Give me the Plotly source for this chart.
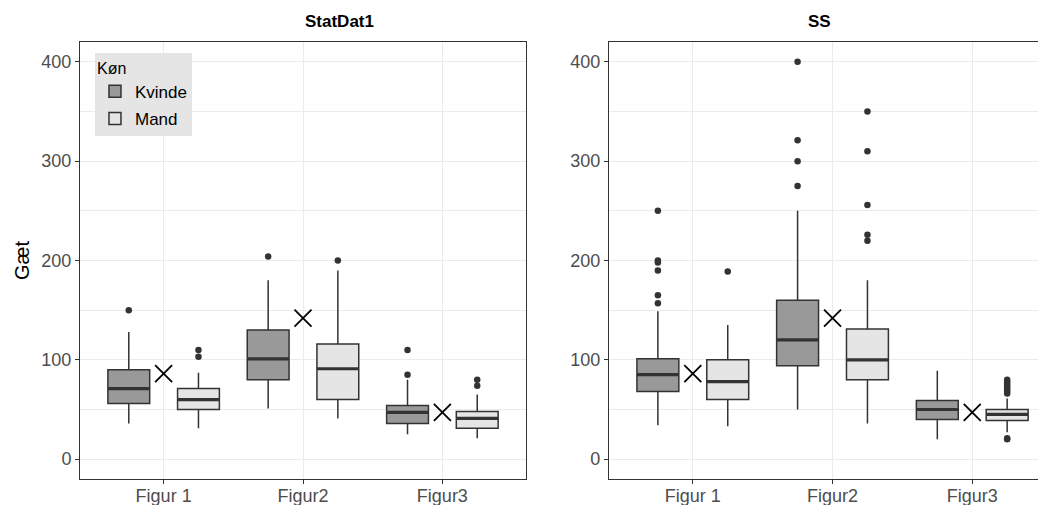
import plotly.graph_objects as go

categories = ["Figur 1", "Figur2", "Figur3"]
groups = ["Kvinde", "Mand"]

# ---- StatDat1 ----
sd_kvinde_q1 = [56, 80, 36]
sd_kvinde_med = [71, 101, 47]
sd_kvinde_q3 = [90, 130, 54]
sd_kvinde_lo = [36, 51, 25]
sd_kvinde_hi = [128, 180, 80]
sd_kvinde_out = [[150], [204], [110, 85]]

sd_mand_q1 = [50, 60, 31]
sd_mand_med = [60, 91, 41]
sd_mand_q3 = [71, 116, 48]
sd_mand_lo = [31, 41, 21]
sd_mand_hi = [87, 190, 65]
sd_mand_out = [[110, 103], [200], [80, 74]]

sd_mean = [86, 142, 47]

# ---- SS ----
ss_kvinde_q1 = [68, 94, 40]
ss_kvinde_med = [85, 120, 50]
ss_kvinde_q3 = [101, 160, 59]
ss_kvinde_lo = [34, 50, 20]
ss_kvinde_hi = [149, 250, 89]
ss_kvinde_out = [[250, 200, 198, 190, 165, 157], [400, 321, 300, 275], []]

ss_mand_q1 = [60, 80, 39]
ss_mand_med = [78, 100, 45]
ss_mand_q3 = [100, 131, 50]
ss_mand_lo = [33, 36, 27]
ss_mand_hi = [135, 180, 61]
ss_mand_out = [[189], [350, 310, 256, 226, 220], [80, 78, 76, 74, 72, 70, 68, 66, 21, 20]]

ss_mean = [86, 142, 47]

fills = {"Kvinde": "#999999", "Mand": "#E5E5E5"}
offsets = {"Kvinde": -0.25, "Mand": 0.25}
BOXW = 0.3
EDGE = "#333333"
FONT = "Liberation Sans, Arial, sans-serif"

panels = [
    ("x", "y", {
        "Kvinde": (sd_kvinde_q1, sd_kvinde_med, sd_kvinde_q3, sd_kvinde_lo, sd_kvinde_hi, sd_kvinde_out),
        "Mand": (sd_mand_q1, sd_mand_med, sd_mand_q3, sd_mand_lo, sd_mand_hi, sd_mand_out),
    }, sd_mean),
    ("x2", "y2", {
        "Kvinde": (ss_kvinde_q1, ss_kvinde_med, ss_kvinde_q3, ss_kvinde_lo, ss_kvinde_hi, ss_kvinde_out),
        "Mand": (ss_mand_q1, ss_mand_med, ss_mand_q3, ss_mand_lo, ss_mand_hi, ss_mand_out),
    }, ss_mean),
]

fig = go.Figure()
base = [i + 1 for i in range(len(categories))]

for pi, (xa, ya, data, means) in enumerate(panels):
    for g in groups:
        q1, med, q3, lo, hi, outs = data[g]
        xs = [b + offsets[g] for b in base]
        fig.add_trace(go.Box(
            x=xs, q1=q1, median=med, q3=q3, lowerfence=lo, upperfence=hi,
            width=BOXW, whiskerwidth=0, boxpoints=False,
            fillcolor=fills[g], line=dict(color=EDGE, width=1.5),
            name=g, legendgroup=g, showlegend=(pi == 0),
            xaxis=xa, yaxis=ya,
        ))
        # thicker median lines
        mx, my = [], []
        for x0, m in zip(xs, med):
            mx += [x0 - BOXW / 2, x0 + BOXW / 2, None]
            my += [m, m, None]
        fig.add_trace(go.Scatter(x=mx, y=my, mode="lines",
                                 line=dict(color=EDGE, width=3.2),
                                 showlegend=False, hoverinfo="skip",
                                 xaxis=xa, yaxis=ya))
        # outliers
        ox, oy = [], []
        for x0, vals in zip(xs, outs):
            ox += [x0] * len(vals)
            oy += vals
        fig.add_trace(go.Scatter(x=ox, y=oy, mode="markers",
                                 marker=dict(color=EDGE, size=6.5),
                                 showlegend=False, xaxis=xa, yaxis=ya))
    fig.add_trace(go.Scatter(x=base, y=means, mode="markers",
                             marker=dict(symbol="x-thin-open", size=17, color="black",
                                         line=dict(color="black", width=1.8)),
                             showlegend=False, xaxis=xa, yaxis=ya))

axis_common = dict(
    showgrid=True, gridcolor="#EBEBEB", gridwidth=1,
    showline=True, linecolor=EDGE, linewidth=1,
    ticks="outside", ticklen=4, tickcolor=EDGE, tickwidth=1,
    tickfont=dict(family=FONT, size=18, color="#4D4D4D"),
    zeroline=False, automargin=False,
)

ygrid_minor = dict(dtick=50, tick0=0, showgrid=True, gridcolor="#EBEBEB",
                   gridwidth=0.5, ticks="")

# page body has an 8px margin, so the figure is sized to fit the window
fig.update_layout(
    width=1038, height=497,
    margin=dict(l=72, r=0, t=34, b=26),
    plot_bgcolor="white", paper_bgcolor="white",
    font=dict(family=FONT),
    boxmode="overlay",
    xaxis=dict(domain=[0, 0.4617], range=[0.4, 3.6], tickvals=base,
               ticktext=categories, mirror=True, ticklabelstandoff=-4, **axis_common),
    yaxis=dict(range=[-20, 420], tickvals=[0, 100, 200, 300, 400], mirror=True,
               minor=ygrid_minor,
               title=dict(text="Gæt", font=dict(family=FONT, size=20, color="black"),
                          standoff=6),
               **axis_common),
    xaxis2=dict(domain=[0.5476, 1], range=[0.4, 3.528], tickvals=base,
                ticktext=categories, mirror=True, anchor="y2", ticklabelstandoff=-4,
                **axis_common),
    yaxis2=dict(range=[-20, 420], tickvals=[0, 100, 200, 300, 400], anchor="x2",
                mirror=False, minor=ygrid_minor, **axis_common),
    legend=dict(x=0.0155, y=0.975, xanchor="left", yanchor="top",
                bgcolor="#E5E5E5",
                title=dict(text="Køn", font=dict(family=FONT, size=16, color="black")),
                font=dict(family=FONT, size=17, color="black"),
                itemwidth=30, tracegroupgap=2),
    annotations=[
        dict(text="<b>StatDat1</b>", x=0.2308, y=1.046, xref="paper", yref="paper",
             yanchor="middle", showarrow=False,
             font=dict(family=FONT, size=17, color="black")),
        dict(text="<b>SS</b>", x=0.779, y=1.046, xref="paper", yref="paper",
             yanchor="middle", showarrow=False,
             font=dict(family=FONT, size=17, color="black")),
    ],
)

fig.write_html("out.html")
